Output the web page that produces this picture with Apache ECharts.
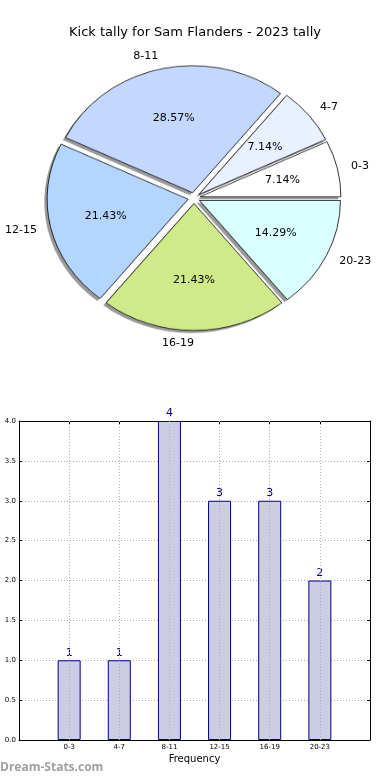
<!DOCTYPE html>
<html>
<head>
<meta charset="utf-8">
<script src="https://cdn.jsdelivr.net/npm/echarts@6/dist/echarts.min.js"></script>
<style>
html,body{margin:0;padding:0;background:#fff;}
#wrap{position:relative;width:390px;height:780px;overflow:hidden;}
#pie{position:absolute;left:0;top:0;width:390px;height:420px;transform-origin:0 0;z-index:0;}
#chart{position:absolute;left:0;top:0;width:390px;height:780px;z-index:1;}
</style>
</head>
<body>
<div id="wrap"><div id="pie"></div><div id="chart"></div></div>
<script>
// ---- data ----
const title = 'Kick tally for Sam Flanders - 2023 tally';
const categories = ['0-3', '4-7', '8-11', '12-15', '16-19', '20-23'];
const counts = [1, 1, 4, 3, 3, 2];
const sliceColors = ['#ffffff', '#e9f0ff', '#c4d8ff', '#b4d5ff', '#d0ea8a', '#d9ffff'];
const xAxisName = 'Frequency';
const watermark = 'Dream-Stats.com';

// ---- layout ----
const FONT = 'DejaVu Sans';
const cx = 194, cy = 198, RX = 141, RY = 127;   // elliptical pie (as drawn in the reference)
const EXPLODE = 0.043, PCTDIST = 0.6, LABELDIST = 1.1;
const K = RY / RX;

// ---------- pie wedges (vertically scaled instance) ----------
const pieDiv = document.getElementById('pie');
pieDiv.style.transform = 'scaleY(' + K + ')';
const pieChart = echarts.init(pieDiv, null, {renderer: 'canvas'});
const pieCommon = {
  type: 'pie', startAngle: 0, clockwise: false, animation: false,
  avoidLabelOverlap: false, silent: true, emphasis: {disabled: true},
  selectedMode: 'multiple', selectedOffset: EXPLODE * RX, radius: RX,
  label: {show: false}, labelLine: {show: false}
};
pieChart.setOption({
  animation: false,
  series: [
    Object.assign({}, pieCommon, {
      center: [cx - 0.02 * RX, (cy + 0.02 * RY) / K],
      data: categories.map((c, i) => ({name: c, value: counts[i], selected: true})),
      itemStyle: {color: 'rgba(30,30,30,0.45)', borderWidth: 0},
      z: 1
    }),
    Object.assign({}, pieCommon, {
      center: [cx, cy / K],
      data: categories.map((c, i) => ({name: c, value: counts[i], selected: true,
        itemStyle: {color: sliceColors[i]}})),
      itemStyle: {borderColor: '#000', borderWidth: 0.8},
      select: {itemStyle: {borderColor: '#000', borderWidth: 0.8}},
      z: 2
    })
  ]
});

// ---------- label positions in pie units (computed from the data) ----------
const total = counts.reduce((a, b) => a + b, 0);
let cum = 0;
const pctPoints = [], namePoints = [];
counts.forEach((v, i) => {
  const mid = 2 * Math.PI * (cum + v / 2) / total;
  cum += v;
  const c = Math.cos(mid), s = Math.sin(mid);
  pctPoints.push({value: [(EXPLODE + PCTDIST) * c, (EXPLODE + PCTDIST) * s],
    name: (v / total * 100).toFixed(2) + '%'});
  namePoints.push({value: [(EXPLODE + LABELDIST) * c, (EXPLODE + LABELDIST) * s],
    name: categories[i], label: {position: c >= 0 ? 'right' : 'left'}});
});

// ---------- main chart ----------
const chart = echarts.init(document.getElementById('chart'), null, {renderer: 'canvas'});
const hiddenAxis = {type: 'value', min: -1, max: 1, show: false};
const gridLine = {color: '#b0b0b0', type: [1, 2], width: 1};
const pieLabel = {show: true, formatter: '{b}', fontFamily: FONT, fontSize: 11,
  color: '#000', opacity: 1, textBorderWidth: 0};
const option = {
  animation: false,
  title: {
    text: title, left: 'center', top: 21,
    textStyle: {fontFamily: FONT, fontSize: 13, fontWeight: 'normal', color: '#000'}
  },
  grid: [
    {left: 19, right: 20, top: 421, bottom: 40},
    {left: cx - RX, top: cy - RY, width: 2 * RX, height: 2 * RY}
  ],
  xAxis: [{
    type: 'value', min: 0, max: 7, interval: 1, gridIndex: 0,
    name: xAxisName, nameLocation: 'middle', nameGap: 14,
    nameTextStyle: {fontFamily: FONT, fontSize: 10, color: '#000'},
    axisLine: {show: true, onZero: false, lineStyle: {color: '#000', width: 1}},
    axisTick: {show: true, inside: true, length: 3, lineStyle: {color: '#000'}},
    axisLabel: {
      fontFamily: FONT, fontSize: 7, color: '#000', margin: 4,
      formatter: v => categories[v - 1] || ''
    },
    splitLine: {show: false}
  }, {
    type: 'value', min: 0, max: 7, interval: 1, position: 'top', gridIndex: 0,
    axisLine: {show: true, onZero: false, lineStyle: {color: '#000', width: 1}},
    axisTick: {show: true, inside: true, length: 3, lineStyle: {color: '#000'}},
    axisLabel: {show: false}, splitLine: {show: false}
  }, Object.assign({gridIndex: 1}, hiddenAxis)],
  yAxis: [{
    type: 'value', min: 0, max: 4, interval: 0.5, gridIndex: 0,
    axisLine: {show: true, onZero: false, lineStyle: {color: '#000', width: 1}},
    axisTick: {show: true, inside: true, length: 3, lineStyle: {color: '#000'}},
    axisLabel: {fontFamily: FONT, fontSize: 7, color: '#000', margin: 3, formatter: v => v.toFixed(1)},
    splitLine: {show: true, lineStyle: gridLine}
  }, {
    type: 'value', min: 0, max: 4, interval: 0.5, position: 'right', gridIndex: 0,
    axisLine: {show: true, onZero: false, lineStyle: {color: '#000', width: 1}},
    axisTick: {show: true, inside: true, length: 3, lineStyle: {color: '#000'}},
    axisLabel: {show: false}, splitLine: {show: false}
  }, Object.assign({gridIndex: 1}, hiddenAxis)],
  graphic: [{
    type: 'text', left: 0, top: 762,
    style: {text: watermark, fontFamily: 'Open Sans', fontWeight: 'bold', fontSize: 12, fill: '#a0a0a0'}
  }],
  series: [
    {
      type: 'bar', xAxisIndex: 0, yAxisIndex: 0, barWidth: 23, animation: false,
      data: categories.map((c, i) => [i + 1, counts[i]]),
      itemStyle: {color: '#ccccE4', borderColor: '#000080', borderWidth: 1},
      label: {show: true, position: 'top', distance: 2, color: '#000080',
        fontFamily: FONT, fontSize: 11},
      // vertical grid lines, drawn over the bars as in the reference
      markLine: {
        silent: true, symbol: 'none', animation: false,
        label: {show: false}, lineStyle: gridLine, emphasis: {disabled: true},
        data: categories.map((c, i) => ({xAxis: i + 1}))
      },
      z: 2
    },
    {
      type: 'scatter', xAxisIndex: 2, yAxisIndex: 2, symbolSize: 0, silent: true, clip: false,
      itemStyle: {color: 'rgba(0,0,0,0)'},
      data: pctPoints,
      label: Object.assign({position: 'inside'}, pieLabel)
    },
    {
      type: 'scatter', xAxisIndex: 2, yAxisIndex: 2, symbolSize: 0, silent: true, clip: false,
      itemStyle: {color: 'rgba(0,0,0,0)'},
      data: namePoints,
      label: Object.assign({distance: 0}, pieLabel)
    }
  ]
};
chart.setOption(option);
</script>
</body>
</html>
